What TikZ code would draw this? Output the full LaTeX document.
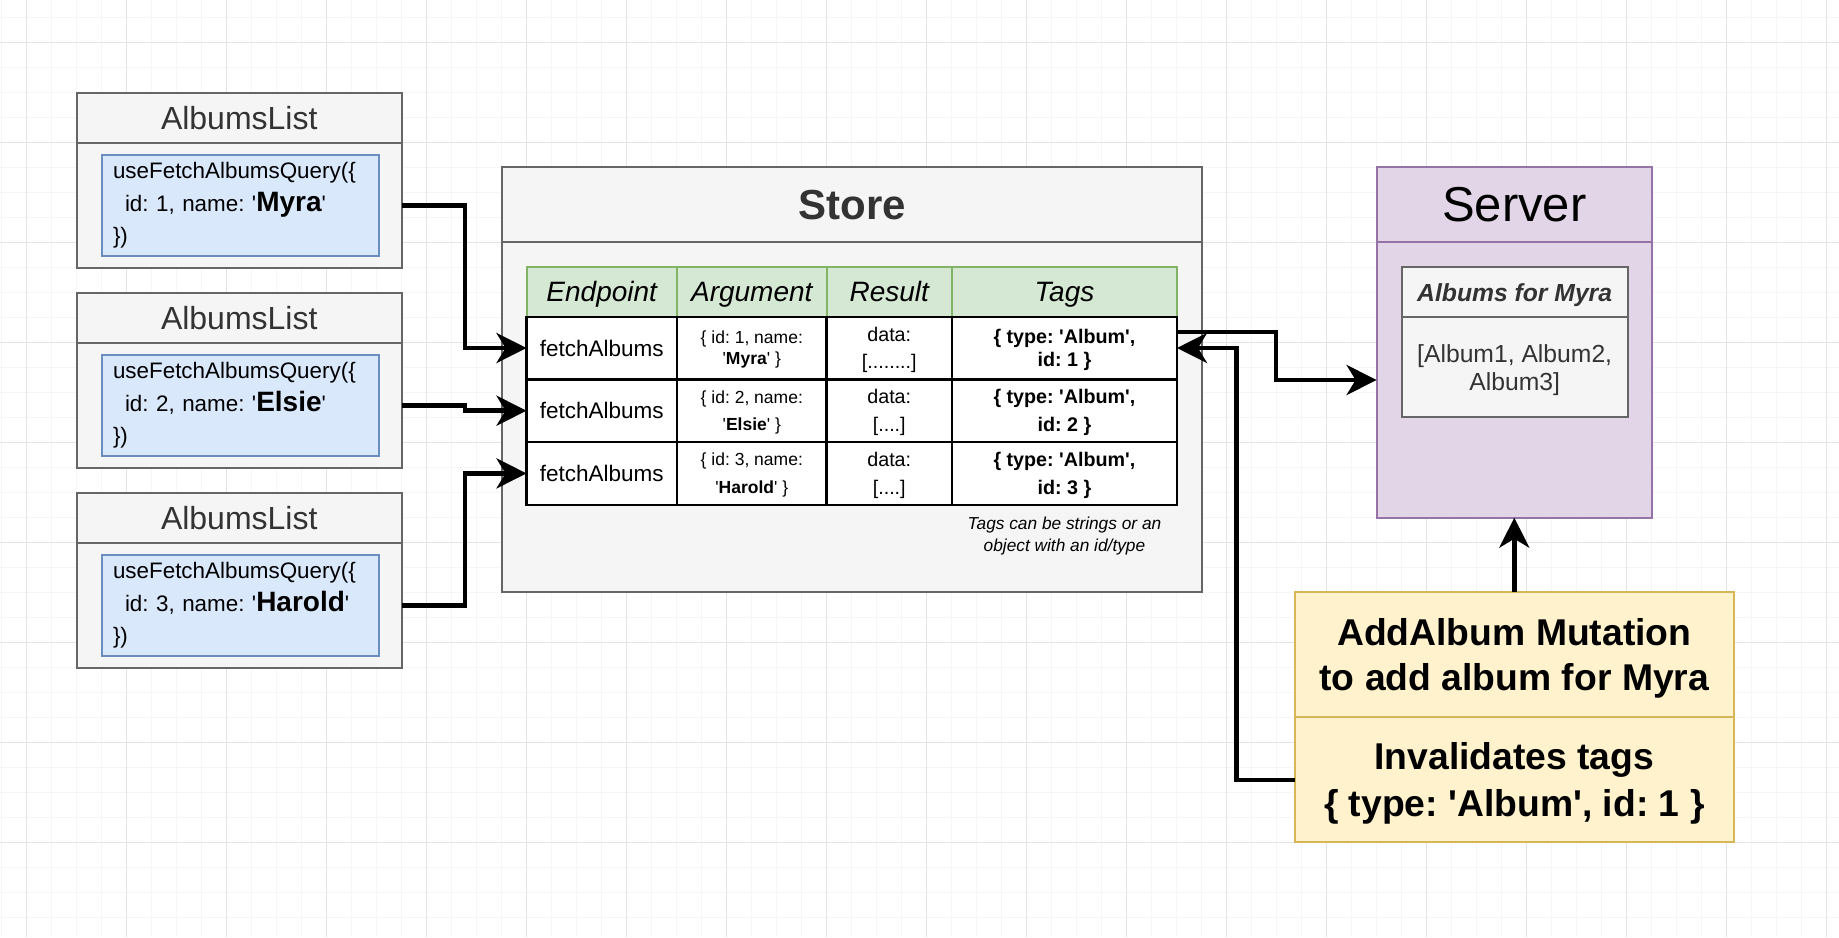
\documentclass[tikz,border=0pt]{standalone}
\usepackage{fontspec}
\setmainfont{Liberation Sans}[Ligatures=TeXOff]
\usetikzlibrary{shapes,arrows.meta,positioning}
\frenchspacing

\definecolor{lanefill}{HTML}{F5F5F5}
\definecolor{lanedraw}{HTML}{666666}
\definecolor{lanetext}{HTML}{333333}
\definecolor{queryfill}{HTML}{DAE8FC}
\definecolor{querydraw}{HTML}{6C8EBF}
\definecolor{headfill}{HTML}{D5E8D4}
\definecolor{headdraw}{HTML}{82B366}
\definecolor{serverfill}{HTML}{E1D5E7}
\definecolor{serverdraw}{HTML}{9673A6}
\definecolor{mutfill}{HTML}{FFF2CC}
\definecolor{mutdraw}{HTML}{D6B656}
\definecolor{gridmajor}{HTML}{E4E4E4}
\definecolor{gridminor}{HTML}{F6F6F6}

\newcommand{\sizedfont}[2]{\fontsize{#1pt}{#2pt}\selectfont}
\newcommand{\namefont}{\bfseries\sizedfont{28}{32.5}}

\begin{document}
\begin{tikzpicture}[x=1pt, y=-1pt, semithick]
  \tikzstyle{lane} = [rectangle, draw=lanedraw, fill=lanefill, line width=2pt,
    anchor=north west, inner sep=0pt, outer sep=0pt]
  \tikzstyle{lanehead} = [lane, text=lanetext, minimum width=325.5pt,
    minimum height=50.2pt, font=\sizedfont{32}{38}]
  \tikzstyle{query} = [rectangle, draw=querydraw, fill=queryfill, line width=2pt,
    anchor=north west, text width=254.7pt, align=left, inner xsep=11pt,
    inner ysep=0pt, minimum height=101.3pt, font=\sizedfont{22.4}{32.5}]
  \tikzstyle{serverbox} = [rectangle, draw=serverdraw, fill=serverfill, line width=2pt,
    anchor=north west, inner sep=0pt, outer sep=0pt, minimum width=275.4pt]
  \tikzstyle{mutbox} = [rectangle, draw=mutdraw, fill=mutfill, line width=2pt,
    anchor=north west, inner sep=0pt, outer sep=0pt, minimum width=438.6pt,
    minimum height=125pt, align=center, text depth=0pt]
  \tikzstyle{headcell} = [rectangle, draw=headdraw, fill=headfill, line width=2pt,
    inner sep=0pt, outer sep=0pt, minimum height=49.4pt]
  \tikzstyle{headtext} = [font=\sizedfont{28}{32}\itshape, text height=22pt, text depth=4pt]
  \tikzstyle{tcell} = [rectangle, draw, fill=white, line width=2.3pt, inner sep=0pt,
    outer sep=0pt, minimum height=62.7pt, align=center, text depth=0pt]
  \tikzstyle{colep} = [minimum width=150.5pt, font=\sizedfont{22.5}{27}]
  \tikzstyle{colarg} = [minimum width=149.6pt, font=\sizedfont{17.5}{21}]
  \tikzstyle{colres} = [minimum width=125.3pt, font=\sizedfont{19.7}{26.7}]
  \tikzstyle{coltags} = [minimum width=225.1pt, font=\sizedfont{19.7}{23.3}\bfseries]
  \tikzstyle{line} = [draw, line width=4.5pt, line join=miter,
    -{Stealth[length=30pt, width=30pt, inset=9pt]}]

  \useasboundingbox (0,0) rectangle (1839,937);

  % Background grid
  \foreach \gx in {1.3,26.3,...,1839} \draw [gridminor, line width=1pt] (\gx,0) -- (\gx,937);
  \foreach \gy in {17.3,42.3,...,937} \draw [gridminor, line width=1pt] (0,\gy) -- (1839,\gy);
  \foreach \gx in {26.3,126.3,...,1839} \draw [gridmajor, line width=1pt] (\gx,0) -- (\gx,937);
  \foreach \gy in {42.3,142.3,...,937} \draw [gridmajor, line width=1pt] (0,\gy) -- (1839,\gy);

  % Album lists
  \node [lane, minimum width=325.5pt, minimum height=175pt] (list1) at (76.5,92.5) {};
  \node [lanehead] (list1head) at (76.5,92.5) {AlbumsList};
  \node [query] (query1) at (101,154)
        {useFetchAlbumsQuery(\{\\\hspace*{12pt}id: 1, name: '{\namefont Myra}'\\\})};

  \node [lane, minimum width=325.5pt, minimum height=175pt] (list2) at (76.5,292.5) {};
  \node [lanehead] (list2head) at (76.5,292.5) {AlbumsList};
  \node [query] (query2) at (101,354)
        {useFetchAlbumsQuery(\{\\\hspace*{12pt}id: 2, name: '{\namefont Elsie}'\\\})};

  \node [lane, minimum width=325.5pt, minimum height=175pt] (list3) at (76.5,492.5) {};
  \node [lanehead] (list3head) at (76.5,492.5) {AlbumsList};
  \node [query] (query3) at (101,554)
        {useFetchAlbumsQuery(\{\\\hspace*{12pt}id: 3, name: '{\namefont Harold}'\\\})};

  % Store
  \node [lane, minimum width=699.7pt, minimum height=350pt] (storebody) at (502.3,242.3) {};
  \node [lane, minimum width=699.7pt, minimum height=75pt, text=lanetext,
         font=\sizedfont{42}{50}\bfseries] (storehead) at (502.3,167.3) {Store};

  % Cache table
  \node [headcell, colep, headtext] (ephead) at (601.75,292) {Endpoint};
  \node [headcell, colarg, headtext, right of=ephead,
         node distance=150.05pt] (arghead) {Argument};
  \node [headcell, colres, headtext, right of=arghead,
         node distance=137.45pt] (reshead) {Result};
  \node [headcell, coltags, headtext, right of=reshead,
         node distance=175.2pt] (tagshead) {Tags};

  \node [tcell, colep, below of=ephead, node distance=56pt] (fetch1) {fetchAlbums};
  \node [tcell, colarg, below of=arghead, node distance=56pt] (arg1)
        {\{ id: 1, name:\\'\textbf{Myra}' \}};
  \node [tcell, colres, below of=reshead, node distance=56pt] (res1)
        {data:\\{[}........]};
  \node [tcell, coltags, below of=tagshead, node distance=56pt] (tags1)
        {\{ type: 'Album',\\id: 1 \}};

  \node [tcell, colep, below of=fetch1, node distance=62.7pt] (fetch2) {fetchAlbums};
  \node [tcell, colarg, below of=arg1, node distance=62.7pt] (arg2)
        {\{ id: 2, name:\\[6.7pt]'\textbf{Elsie}' \}};
  \node [tcell, colres, below of=res1, node distance=62.7pt] (res2)
        {data:\\[1.6pt]{[}....]};
  \node [tcell, coltags, below of=tags1, node distance=62.7pt] (tags2)
        {\{ type: 'Album',\\[4.4pt]id: 2 \}};

  \node [tcell, colep, below of=fetch2, node distance=62.7pt] (fetch3) {fetchAlbums};
  \node [tcell, colarg, below of=arg2, node distance=62.7pt] (arg3)
        {\{ id: 3, name:\\[6.7pt]'\textbf{Harold}' \}};
  \node [tcell, colres, below of=res2, node distance=62.7pt] (res3)
        {data:\\[1.6pt]{[}....]};
  \node [tcell, coltags, below of=tags2, node distance=62.7pt] (tags3)
        {\{ type: 'Album',\\[4.4pt]id: 3 \}};

  \node [align=center, font=\sizedfont{17.3}{22}\itshape, below of=tags3,
         node distance=63pt] (tagsnote)
        {Tags can be strings or an\\object with an id/type};

  % Server
  \node [serverbox, minimum height=75pt, font=\sizedfont{49}{56}] (serverhead)
        at (1376.6,167.3) {Server};
  \node [serverbox, minimum height=275.4pt] (serverbody) at (1376.6,242.3) {};
  \node [lane, minimum width=225.7pt, minimum height=50pt, text=lanetext, text depth=0pt,
         font=\sizedfont{24.7}{28}\bfseries\itshape] (albumshead) at (1401.8,267.3)
        {Albums for Myra};
  \node [lane, minimum width=225.7pt, minimum height=100pt, text=lanetext, text depth=0pt,
         align=center, font=\sizedfont{24.7}{28}] (albumsbody) at (1401.8,317.3)
        {[Album1, Album2,\\Album3]};

  % Mutation
  \node [mutbox, font=\sizedfont{37.3}{45}\bfseries] (mutation) at (1295,592.3)
        {AddAlbum Mutation\\to add album for Myra};
  \node [mutbox, font=\sizedfont{37.3}{46.7}\bfseries] (invalidate) at (1295,717.3)
        {Invalidates tags\\\{ type: 'Album', id: 1 \}};

  % Draw edges
  \path [line] (query1.east -| list1.east) -- ++(63,0) |- (fetch1.west);
  \path [line] (query2.east -| list2.east) -- ++(63,0) |- (fetch2.west);
  \path [line] (query3.east -| list3.east) -- ++(63,0) |- (fetch3.west);

  \path [line] ([yshift=16pt]tags1.east) -- ++(99,0) |- (serverbody.west);
  \path [line] (invalidate.west) -- ++(-58.5,0) |- (tags1.east);
  \path [line] (mutation.north) -- (serverbody.south);

\end{tikzpicture}
\end{document}
